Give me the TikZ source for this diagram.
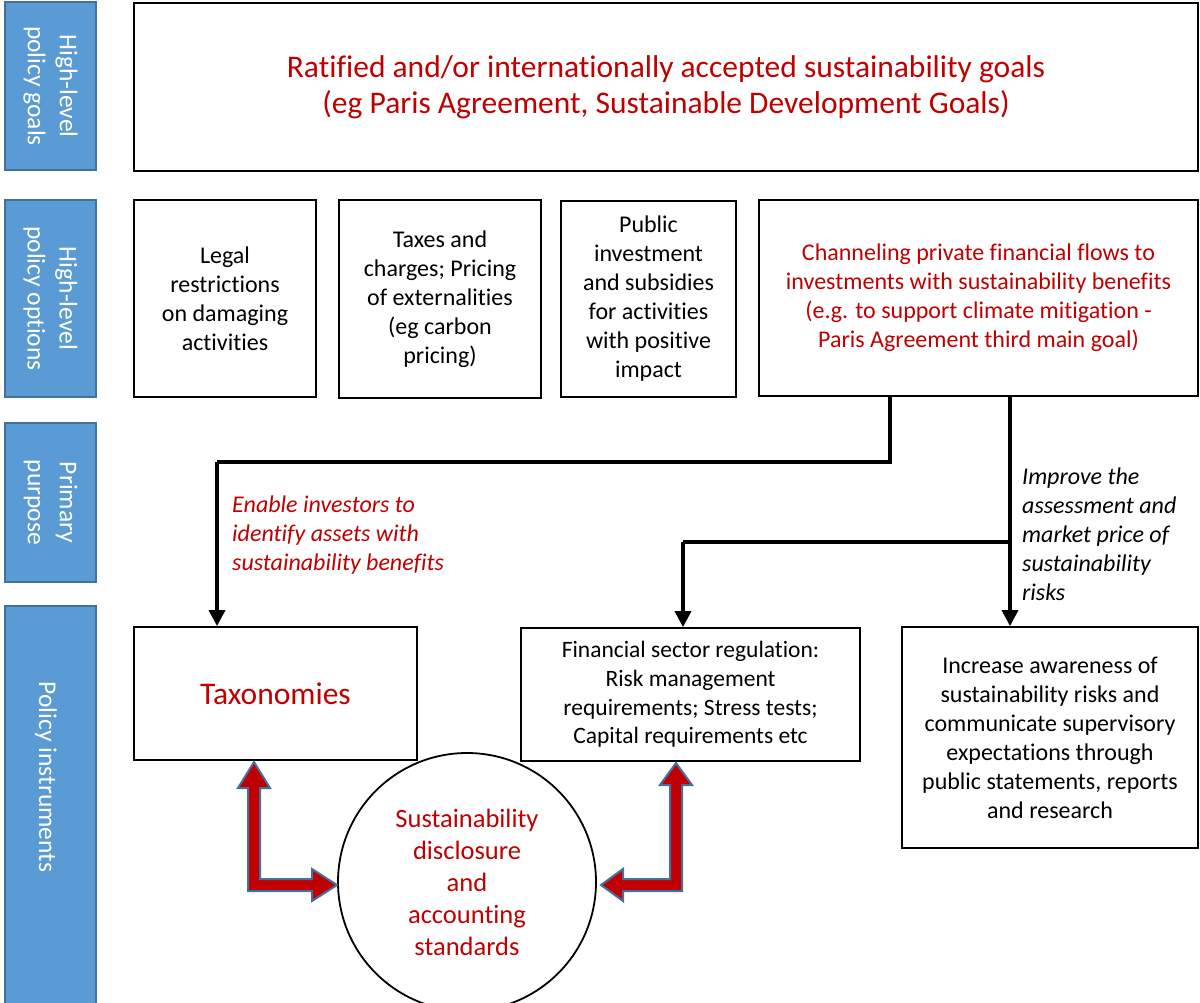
\documentclass[tikz,border=0pt]{standalone}
\usepackage{fontspec}
\setmainfont{Carlito}[Ligatures=NoCommon]
\usetikzlibrary{arrows.meta}
\definecolor{barblue}{HTML}{5B9BD5}
\definecolor{barline}{HTML}{41719C}
\definecolor{dred}{HTML}{C00000}
\begin{document}
\begin{tikzpicture}[x=1pt,y=-1pt,
  bar/.style={draw=barline,line width=2pt,fill=barblue,inner sep=0pt,text=white,align=center,rotate=-90,font=\fontsize{25.5}{32}\selectfont},
  bartext/.style={inner sep=0pt,text=white,align=center,rotate=-90,font=\fontsize{25.5}{32}\selectfont},
  box/.style={draw=black,line width=1.8pt,inner sep=0pt,align=center,font=\fontsize{24}{29}\selectfont},
  conn/.style={draw=black,line width=3.5pt},
  tip/.style={-{Triangle[length=16pt,width=16pt]}},
  redarrow/.style={fill=dred,draw=barline,line width=2pt,line join=miter},
  lbl/.style={align=left,anchor=north west,inner sep=0pt,font=\fontsize{24}{29}\selectfont\itshape}
]
\useasboundingbox (0,0) rectangle (1200,1002);
% left bars (rotated: minimum width is along height)
\node[bar,minimum width=168pt,minimum height=91pt] (bar1) at (50.5,86) {High-level\\policy goals};
\node[bar,minimum width=197pt,minimum height=91pt] (bar2) at (50.5,298.5) {High-level\\policy options};
\node[bar,minimum width=159pt,minimum height=91pt] (bar3) at (50.5,502.5) {Primary\\purpose};
\node[bar,minimum width=414pt,minimum height=91pt] (bar4) at (50.5,813) {};
\node[bartext] (bar4t) at (46,777) {Policy instruments};
% top box
\node[box,minimum width=1064pt,minimum height=168pt,text=dred,font=\fontsize{31.5}{36}\selectfont] (goal) at (666,87) {Ratified and/or internationally accepted sustainability goals\\(eg Paris Agreement, Sustainable Development Goals)};
% row 2
\node[box,minimum width=182pt,minimum height=197pt] (opt1) at (225,298.5) {Legal\\restrictions\\on damaging\\activities};
\node[box,minimum width=202pt,minimum height=198pt] (opt2) at (440,299) {Taxes and\\charges; Pricing\\of externalities\\(eg carbon\\pricing)};
\node[box,minimum width=175pt,minimum height=196pt] (opt3) at (648.5,299) {Public\\investment\\and subsidies\\for activities\\with positive\\impact};
\node[box,minimum width=439pt,minimum height=196pt,text=dred] (opt4) at (978.5,298) {Channeling private financial flows to\\investments with sustainability benefits\\(e.g. to support climate mitigation -\\Paris Agreement third main goal)};
% row 4
\node[box,minimum width=283pt,minimum height=133pt,text=dred,font=\fontsize{31.5}{36}\selectfont] (tax) at (275.5,693.5) {Taxonomies};
\node[box,minimum width=339pt,minimum height=133pt,font=\fontsize{23.5}{28.7}\selectfont] (fin) at (690.5,694.5) {Financial sector regulation:\\Risk management\\requirements; Stress tests;\\Capital requirements etc};
\node[box,minimum width=296pt,minimum height=221pt] (aware) at (1050,737.5) {Increase awareness of\\sustainability risks and\\communicate supervisory\\expectations through\\public statements, reports\\and research};
\node[box,circle,minimum size=258pt,text=dred,font=\fontsize{26.5}{32}\selectfont] (disc) at (467,882) {Sustainability\\disclosure\\and\\accounting\\standards};
% labels
\node[lbl,text=dred] (lab1) at (232,496) {Enable investors to\\identify assets with\\sustainability benefits};
\node[lbl] (lab2) at (1022,468) {Improve the\\assessment and\\market price of\\sustainability\\risks};
% connectors
\coordinate (c1) at (890,462);
\coordinate (c2) at (217,462);
\coordinate (c3) at (1010,542);
\coordinate (c4) at (683,542);
\draw[conn,line join=miter] (opt4.south -| c1) -- (c1) -- (c2);
\draw[conn,tip] (c2) -- (c2 |- tax.north);
\draw[conn,tip] (opt4.south -| c3) -- (c3 |- aware.north);
\draw[conn,line join=miter] (c3) -- (c4);
\draw[conn,tip] (c4) -- (c4 |- fin.north);
% red double arrows
\draw[redarrow] (254,762) -- (270,788) -- (260,788) -- (260,879) -- (312,879) -- (312,869) -- (337,885) -- (312,901) -- (312,891) -- (248,891) -- (248,788) -- (238,788) -- cycle;
\draw[redarrow] (676,763) -- (692,785) -- (682,785) -- (682,891) -- (623,891) -- (623,901) -- (601,885) -- (623,869) -- (623,879) -- (670,879) -- (670,785) -- (660,785) -- cycle;
\end{tikzpicture}
\end{document}
